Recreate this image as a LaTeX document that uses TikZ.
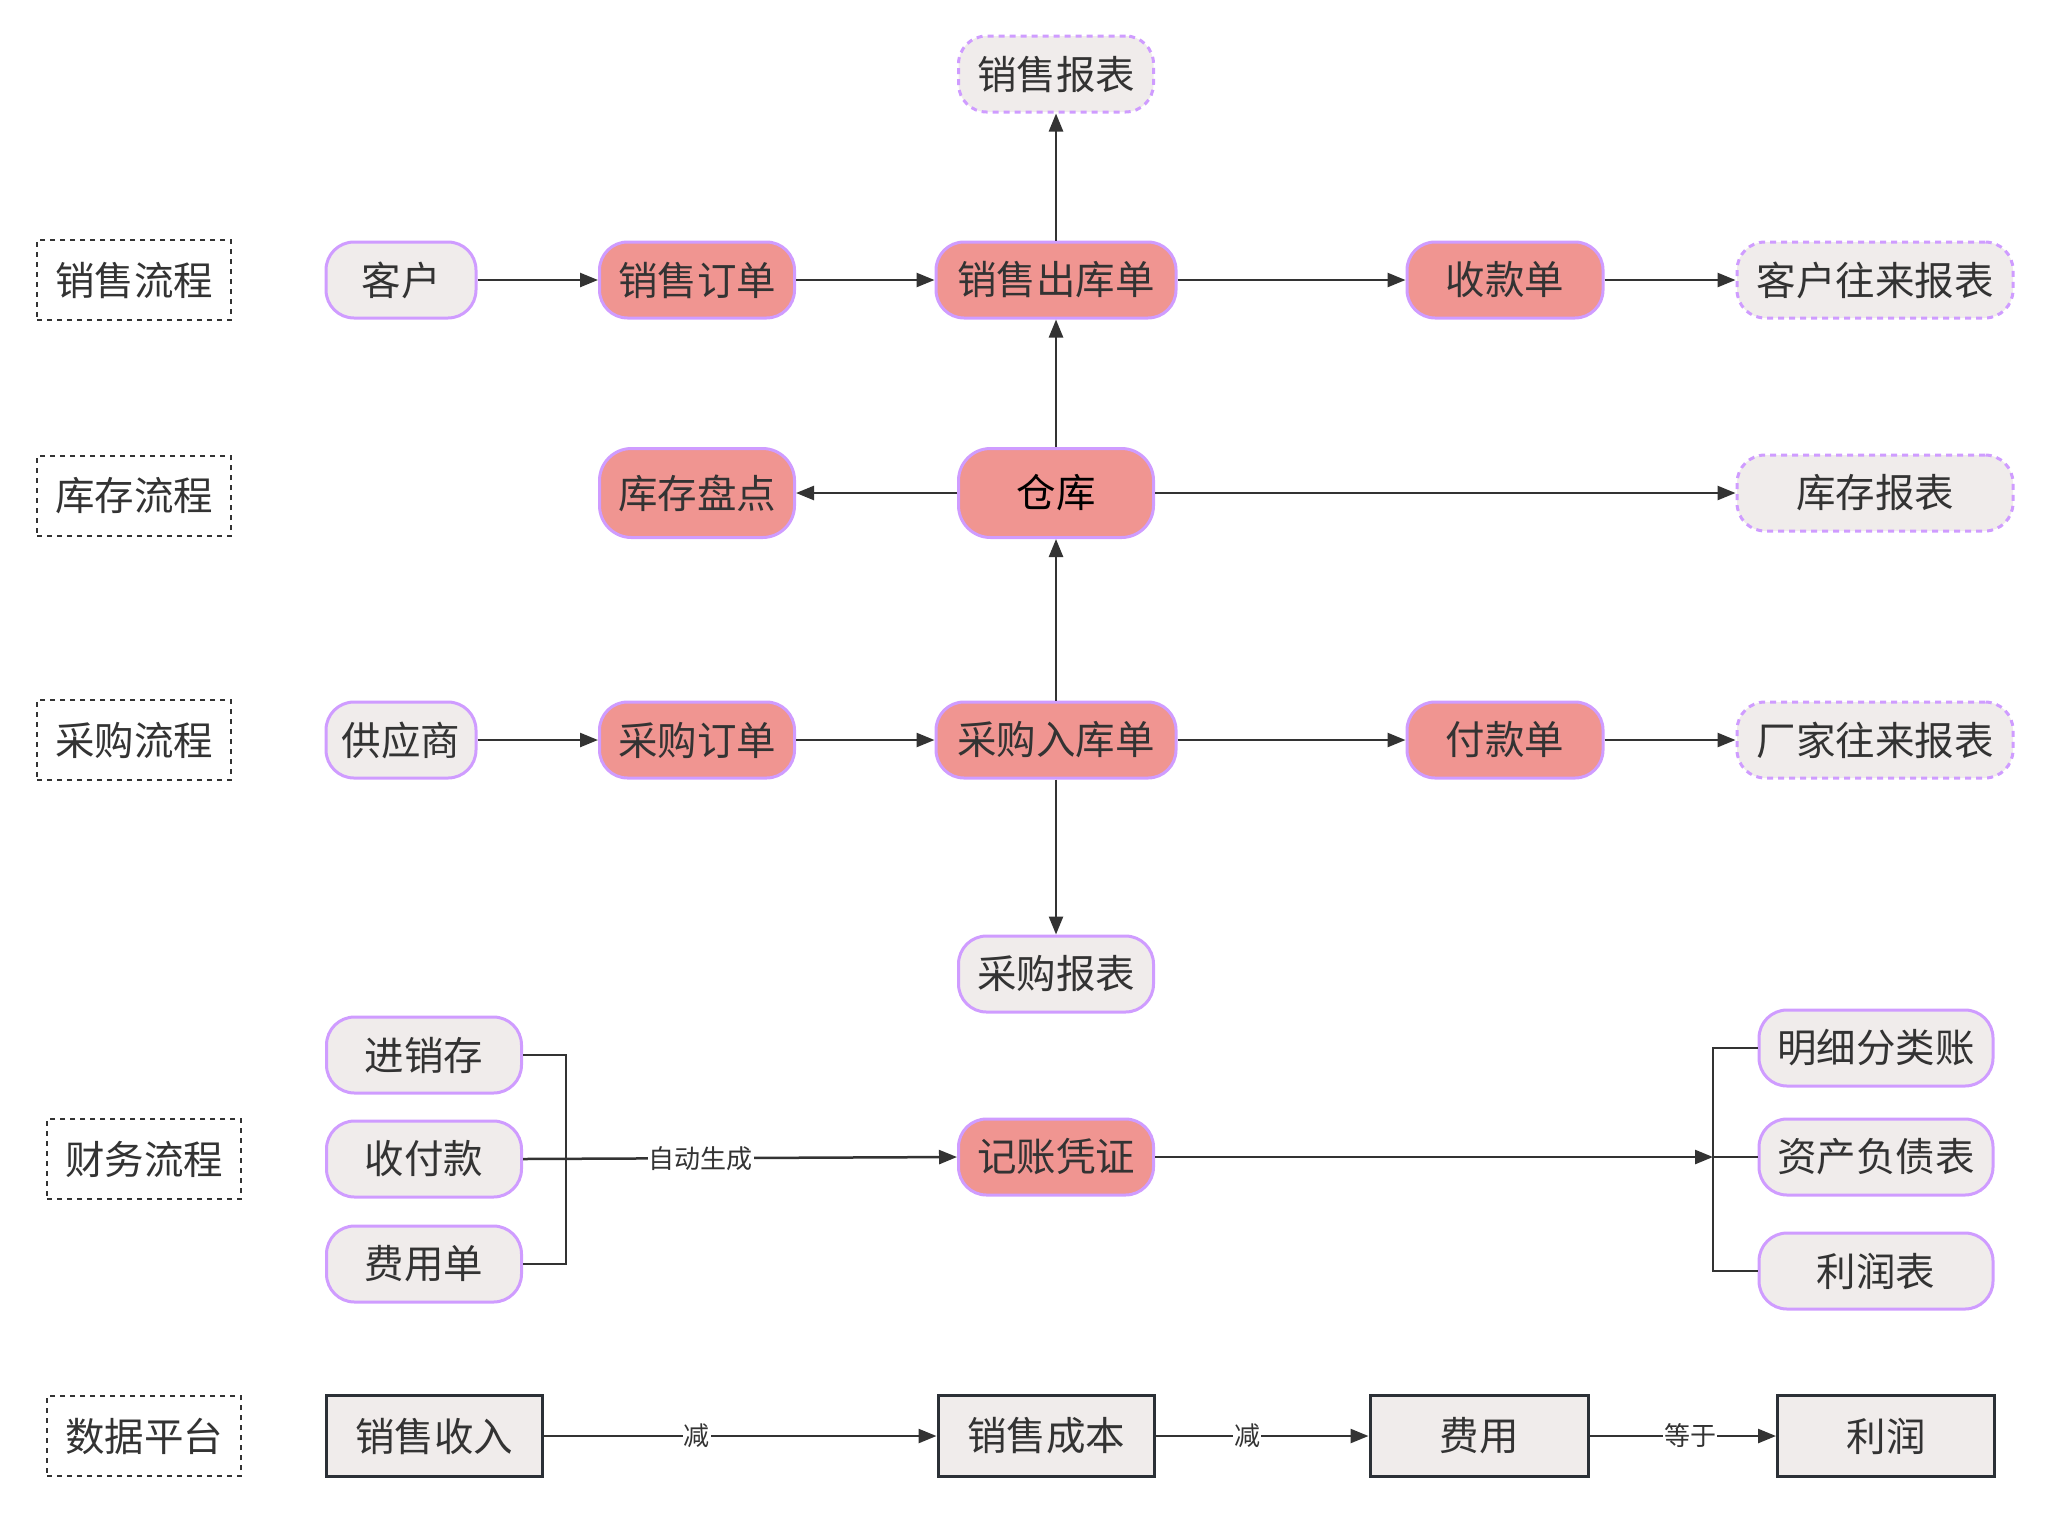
\documentclass[tikz,border=0pt]{standalone}
\usepackage{fontspec}
\setmainfont{Noto Sans CJK SC}
\usetikzlibrary{arrows.meta}
\definecolor{pinkfill}{HTML}{F09591}
\definecolor{greyfill}{HTML}{F0ECEB}
\definecolor{purp}{HTML}{CF9CFF}
\definecolor{ink}{HTML}{333333}
\definecolor{boxline}{HTML}{2B3036}
\begin{document}
\begin{tikzpicture}[x=1pt,y=-1pt,
  base/.style={draw=purp, line width=3pt, rounded corners=28pt, inner sep=0pt,
    minimum height=76pt, text=ink, font=\fontsize{39.5}{46}\selectfont},
  pinknode/.style={base, fill=pinkfill},
  greynode/.style={base, fill=greyfill},
  report/.style={base, fill=greyfill, dash pattern=on 6pt off 5pt},
  lane/.style={draw=ink, line width=2.5pt, dash pattern=on 5pt off 5pt, inner sep=0pt,
    minimum width=194pt, minimum height=80pt, text=ink, font=\fontsize{39.5}{46}\selectfont},
  databox/.style={draw=boxline, line width=3pt, fill=greyfill, inner sep=0pt,
    minimum height=81pt, text=ink, font=\fontsize{39.5}{46}\selectfont},
  plain/.style={draw=ink, line width=2.5pt},
  conn/.style={plain, -{Triangle[length=18pt,width=14pt]}},
  lbl/.style={fill=white, inner sep=1pt, text=ink, font=\fontsize{26}{30}\selectfont}
]
\useasboundingbox (0,0) rectangle (2049,1513);

% lanes
\node[lane] (l1) at (134,280) {销售流程};
\node[lane] (l2) at (134,496) {库存流程};
\node[lane] (l3) at (134,740) {采购流程};
\node[lane] (l4) at (144,1159) {财务流程};
\node[lane] (l5) at (144,1436) {数据平台};

% sales row
\node[report, minimum width=195pt] (xsbb) at (1056,74) {销售报表};
\node[greynode, minimum width=150pt] (kehu) at (401,280) {客户};
\node[pinknode, minimum width=195pt] (xsdd) at (697,280) {销售订单};
\node[pinknode, minimum width=240pt] (xsck) at (1056,280) {销售出库单};
\node[pinknode, minimum width=196pt] (skd) at (1505,280) {收款单};
\node[report, minimum width=276pt] (khwl) at (1875,280) {客户往来报表};

% inventory row
\node[pinknode, minimum width=195pt, minimum height=89pt, rounded corners=32pt] (kcpd) at (697,493) {库存盘点};
\node[pinknode, minimum width=195pt, minimum height=89pt, rounded corners=32pt, text=black] (ck) at (1056,493) {仓库};
\node[report, minimum width=276pt] (kcbb) at (1875,493) {库存报表};

% purchase row
\node[greynode, minimum width=150pt] (gys) at (401,740) {供应商};
\node[pinknode, minimum width=195pt] (cgdd) at (697,740) {采购订单};
\node[pinknode, minimum width=240pt] (cgrk) at (1056,740) {采购入库单};
\node[pinknode, minimum width=196pt] (fkd) at (1505,740) {付款单};
\node[report, minimum width=276pt] (cjwl) at (1875,740) {厂家往来报表};
\node[greynode, minimum width=195pt] (cgbb) at (1056,974) {采购报表};

% finance
\node[greynode, minimum width=195pt] (jxc) at (424,1055) {进销存};
\node[greynode, minimum width=195pt] (sfk) at (424,1159) {收付款};
\node[greynode, minimum width=195pt] (fyd) at (424,1264) {费用单};
\node[pinknode, minimum width=195pt] (jzpz) at (1056,1157) {记账凭证};
\node[greynode, minimum width=234pt] (mxflz) at (1876,1048) {明细分类账};
\node[greynode, minimum width=234pt] (zcfzb) at (1876,1157) {资产负债表};
\node[greynode, minimum width=234pt] (lrb) at (1876,1271) {利润表};

% data platform
\node[databox, minimum width=216pt] (xssr) at (434,1436) {销售收入};
\node[databox, minimum width=216pt] (xscb) at (1046,1436) {销售成本};
\node[databox, minimum width=218pt] (fy) at (1479,1436) {费用};
\node[databox, minimum width=217pt] (lr) at (1886,1436) {利润};

% sales connectors
\draw[conn] (kehu.east) -- (xsdd.west);
\draw[conn] (xsdd.east) -- (xsck.west);
\draw[conn] (xsck.east) -- (skd.west);
\draw[conn] (skd.east) -- (khwl.west);
\draw[conn] (xsck.north) -- (xsbb.south);

% inventory connectors
\draw[conn] (ck.north) -- (xsck.south);
\draw[conn] (ck.west) -- (kcpd.east);
\draw[conn] (ck.east) -- (kcbb.west);

% purchase connectors
\draw[conn] (gys.east) -- (cgdd.west);
\draw[conn] (cgdd.east) -- (cgrk.west);
\draw[conn] (cgrk.east) -- (fkd.west);
\draw[conn] (fkd.east) -- (cjwl.west);
\draw[conn] (cgrk.north) -- (ck.south);
\draw[conn] (cgrk.south) -- (cgbb.north);

% finance connectors
\coordinate (bl) at (566,1159);
\draw[plain] (jxc.east) -- (bl |- jxc.east) -- (bl |- fyd.east) -- (fyd.east);
\draw[conn] (sfk.east) -- node[lbl, pos=0.41] {自动生成} (jzpz.west);
\coordinate (br) at (1713,1157);
\draw[conn] (jzpz.east) -- (br);
\draw[plain] (mxflz.west) -- (br |- mxflz.west) -- (br |- lrb.west) -- (lrb.west);
\draw[plain] (br) -- (zcfzb.west);

% data platform connectors
\draw[conn] (xssr.east) -- node[lbl, pos=0.39] {减} (xscb.west);
\draw[conn] (xscb.east) -- node[lbl, pos=0.43] {减} (fy.west);
\draw[conn] (fy.east) -- node[lbl, pos=0.54] {等于} (lr.west);
\end{tikzpicture}
\end{document}
